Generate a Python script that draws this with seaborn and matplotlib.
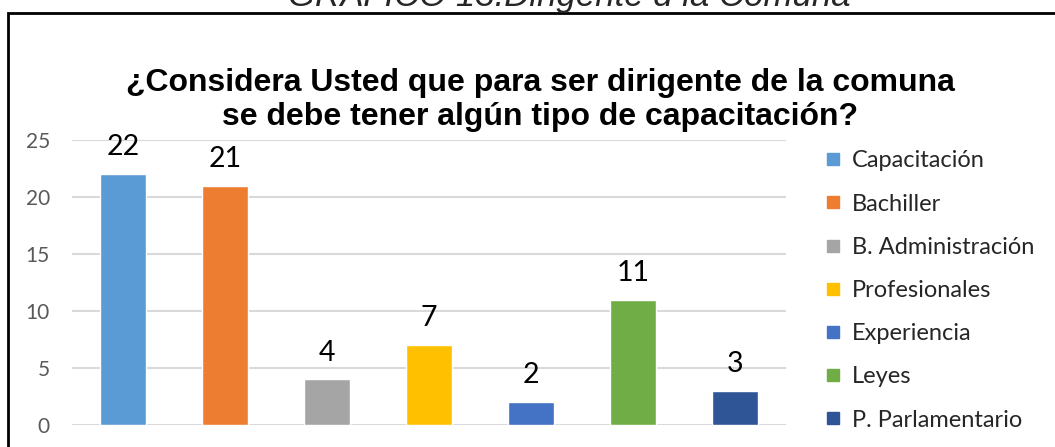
import pandas as pd
import numpy as np

import matplotlib
matplotlib.use("Agg")
import matplotlib.pyplot as plt
import seaborn as sns
from matplotlib.lines import Line2D
from matplotlib.patches import Rectangle

# Data
categories = [
    "Capacitación",
    "Bachiller",
    "B. Administración",
    "Profesionales",
    "Experiencia",
    "Leyes",
    "P. Parlamentario"
]
values = [22, 21, 4, 7, 2, 11, 3]
colors = ["#5B9BD5", "#ED7D31", "#A5A5A5", "#FFC000", "#4472C4", "#70AD47", "#2F5597"]
y_ticks = [0, 5, 10, 15, 20, 25]

df = pd.DataFrame({"Categoria": categories, "Valor": values})

sns.set_style("white")
plt.rcParams["font.family"] = ["Lato", "DejaVu Sans"]

W, H = 1055, 447
fig = plt.figure(figsize=(W / 100, H / 100), dpi=100)

# Outer frame of the chart (cut off at the bottom and right)
fig.add_artist(Rectangle((8 / W, -0.05), 1.2, 1 - 13 / H + 0.05,
                         transform=fig.transFigure, fill=False,
                         edgecolor="black", linewidth=2))

# Caption above the frame, mostly cut off
fig.text(0.54, 1 - 6 / H, "GRÁFICO 13:Dirigente d la Comuna",
         ha="center", va="baseline", fontsize=25, style="italic",
         family=["Liberation Sans"])

# Title
fig.text(0.512, 1 - 100 / H,
         "¿Considera Usted que para ser dirigente de la comuna\nse debe tener algún tipo de capacitación?",
         ha="center", va="center", fontsize=23, fontweight="bold",
         color="black", family=["Liberation Sans"], linespacing=1.2)

ax = fig.add_axes([72 / W, (H - 425) / H, (786 - 72) / W, (425 - 140) / H])

sns.barplot(
    data=df,
    x="Categoria",
    y="Valor",
    hue="Categoria",
    palette=colors,
    saturation=1,
    dodge=False,
    width=0.46,
    legend=False,
    ax=ax,
    zorder=3
)

ax.set_ylim(0, 25)
ax.set_xlim(-0.5, len(categories) - 0.5)
ax.set_yticks(y_ticks)
ax.set_xticks([])
ax.set_xlabel("")
ax.set_ylabel("")
ax.yaxis.grid(True, color="#D9D9D9", linewidth=1.5, zorder=0)
ax.set_axisbelow(True)
for s in ax.spines.values():
    s.set_visible(False)
ax.tick_params(axis="y", length=0, pad=16, labelsize=15, labelcolor="#595959")

for cont in ax.containers:
    ax.bar_label(cont, padding=10, fontsize=20.5, color="black", clip_on=False)

# Legend
handles = [Line2D([0], [0], marker="s", linestyle="", markersize=8,
                  markerfacecolor=c, markeredgecolor=c) for c in colors]
fig.legend(handles, categories, loc="upper left",
           bbox_to_anchor=(814 / W, 1 - 141 / H),
           frameon=False, fontsize=17, handlelength=0.8,
           handletextpad=0.4, labelspacing=0.94, borderaxespad=0)

plt.savefig("out.png", dpi=100)
